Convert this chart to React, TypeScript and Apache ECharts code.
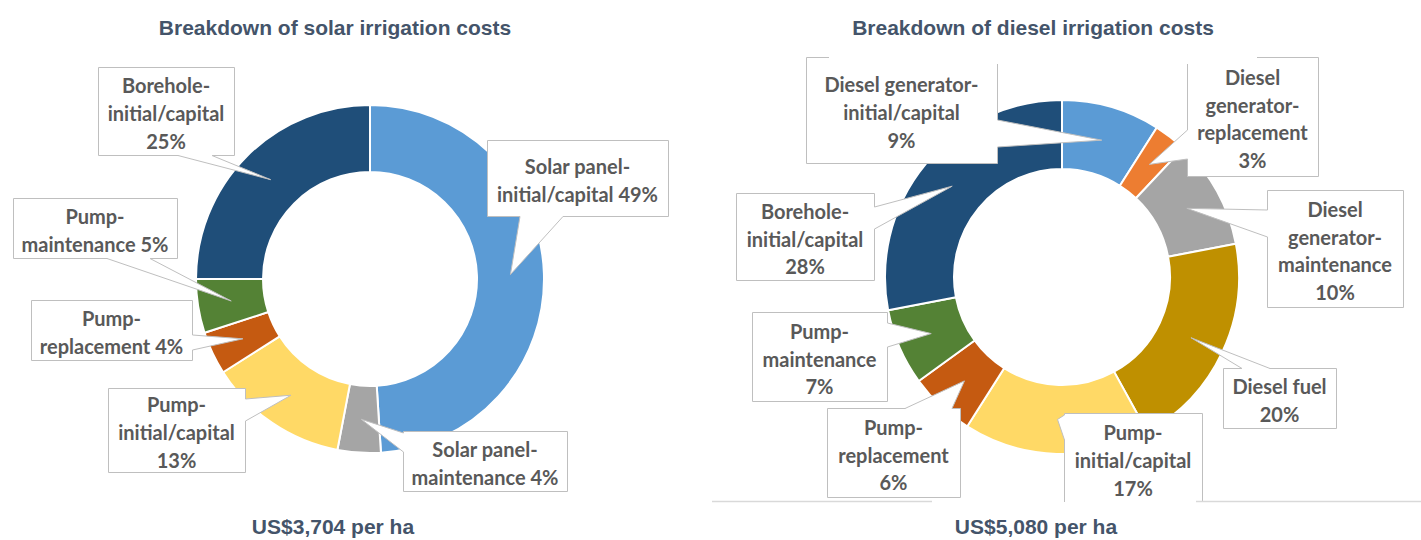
import React, { useEffect, useRef } from 'react';
import * as echarts from 'echarts';

// ---------- DATA ----------
const solarCategories = [
  'Solar panel-initial/capital',
  'Solar panel-maintenance',
  'Pump-initial/capital',
  'Pump-replacement',
  'Pump-maintenance',
  'Borehole-initial/capital',
];
const solarValues = [49, 4, 13, 4, 5, 25];
const solarLabelTemplates = [
  'Solar panel-\ninitial/capital {p}%',
  'Solar panel-\nmaintenance {p}%',
  'Pump-\ninitial/capital\n{p}%',
  'Pump-\nreplacement {p}%',
  'Pump-\nmaintenance {p}%',
  'Borehole-\ninitial/capital\n{p}%',
];
const solarTitle = 'Breakdown of solar irrigation costs';
const solarTotal = 'US$3,704 per ha';

const dieselCategories = [
  'Diesel generator-initial/capital',
  'Diesel generator-replacement',
  'Diesel generator-maintenance',
  'Diesel fuel',
  'Pump-initial/capital',
  'Pump-replacement',
  'Pump-maintenance',
  'Borehole-initial/capital',
];
const dieselValues = [9, 3, 10, 20, 17, 6, 7, 28];
const dieselLabelTemplates = [
  'Diesel generator-\ninitial/capital\n{p}%',
  'Diesel\ngenerator-\nreplacement\n{p}%',
  'Diesel\ngenerator-\nmaintenance\n{p}%',
  'Diesel fuel\n{p}%',
  'Pump-\ninitial/capital\n{p}%',
  'Pump-\nreplacement\n{p}%',
  'Pump-\nmaintenance\n{p}%',
  'Borehole-\ninitial/capital\n{p}%',
];
const dieselTitle = 'Breakdown of diesel irrigation costs';
const dieselTotal = 'US$5,080 per ha';

// ---------- STYLE / LAYOUT ----------
const solarColors = ['#5B9BD5', '#A5A5A5', '#FFD966', '#C55A11', '#548235', '#1F4E79'];
const dieselColors = ['#5B9BD5', '#ED7D31', '#A5A5A5', '#BF9000', '#FFD966', '#C55A11', '#548235', '#1F4E79'];

type Callout = { box: [number, number, number, number]; side: 'top' | 'bottom' | 'left' | 'right'; base: [number, number] };

const solarCallouts: Callout[] = [
  { box: [487, 140, 668, 216], side: 'bottom', base: [520, 563] },
  { box: [403, 431, 567, 491], side: 'left', base: [433, 452] },
  { box: [108, 388, 245, 472], side: 'right', base: [399, 421] },
  { box: [31, 300, 192, 360], side: 'right', base: [335, 350] },
  { box: [13, 198, 177, 258], side: 'bottom', base: [107, 150] },
  { box: [98, 67, 234, 155], side: 'bottom', base: [178, 212] },
];
const dieselCallouts: Callout[] = [
  { box: [806, 57, 997, 163], side: 'right', base: [120, 147] },
  { box: [1187, 57, 1318, 176], side: 'left', base: [130, 159] },
  { box: [1267, 190, 1403, 307], side: 'left', base: [210, 237] },
  { box: [1223, 368, 1336, 428], side: 'top', base: [1242, 1270] },
  { box: [1064, 413, 1202, 503], side: 'left', base: [415, 440] },
  { box: [827, 408, 960, 497], side: 'top', base: [905, 952] },
  { box: [752, 312, 887, 401], side: 'right', base: [323, 347] },
  { box: [736, 193, 874, 280], side: 'right', base: [207, 229] },
];

const solarPie = { center: [370, 279], radius: [107, 174] };
const dieselPie = { center: [1062, 277], radius: [108, 177] };

const LABEL_FONT = 'bold 20px Lato, "Open Sans", sans-serif';
const TITLE_FONT = 'bold 21px "Liberation Sans", Arial, sans-serif';
const LABEL_COLOR = '#595959';
const TITLE_COLOR = '#44546A';
const BORDER = '#BFBFBF';

function pieSeries(values: number[], cats: string[], colors: string[], cfg: any) {
  return {
    type: 'pie',
    center: cfg.center,
    radius: cfg.radius,
    startAngle: 90,
    clockwise: true,
    silent: true,
    label: { show: false },
    labelLine: { show: false },
    emphasis: { disabled: true },
    itemStyle: { borderColor: '#ffffff', borderWidth: 2 },
    data: values.map((v, i) => ({ name: cats[i], value: v, itemStyle: { color: colors[i] } })),
  };
}

function fallbackLayout(values: number[], cfg: any, i: number) {
  const sum = values.reduce((a, b) => a + b, 0);
  let acc = 0;
  for (let k = 0; k < i; k++) acc += values[k];
  const s = -Math.PI / 2 + (acc / sum) * Math.PI * 2;
  const e = s + (values[i] / sum) * Math.PI * 2;
  return { cx: cfg.center[0], cy: cfg.center[1], r0: cfg.radius[0], r: cfg.radius[1], startAngle: s, endAngle: e };
}

function buildCallouts(
  chart: any,
  seriesIndex: number,
  values: number[],
  templates: string[],
  callouts: Callout[],
  cfg: any
) {
  const els: any[] = [];
  const sum = values.reduce((a, b) => a + b, 0);
  let data: any = null;
  try {
    data = chart.getModel().getSeriesByIndex(seriesIndex).getData();
  } catch (e) {
    data = null;
  }
  values.forEach((v, i) => {
    let lay: any = null;
    try {
      lay = data ? data.getItemLayout(i) : null;
    } catch (e) {
      lay = null;
    }
    if (!lay || lay.cx == null) lay = fallbackLayout(values, cfg, i);
    const mid = (lay.startAngle + lay.endAngle) / 2;
    const rm = (lay.r0 + lay.r) / 2;
    const tip = [lay.cx + rm * Math.cos(mid), lay.cy + rm * Math.sin(mid)];

    const c = callouts[i];
    const [x1, y1, x2, y2] = c.box;
    const bx1 = x1 + 0.5, by1 = y1 + 0.5, bx2 = x2 + 0.5, by2 = y2 + 0.5;
    const [a, b] = c.base;
    let p1: number[], p2: number[], q1: number[], q2: number[];
    const inset = 2.5;
    if (c.side === 'bottom') {
      p1 = [a, by2]; p2 = [b, by2]; q1 = [a, by2 - inset]; q2 = [b, by2 - inset];
    } else if (c.side === 'top') {
      p1 = [a, by1]; p2 = [b, by1]; q1 = [a, by1 + inset]; q2 = [b, by1 + inset];
    } else if (c.side === 'left') {
      p1 = [bx1, a]; p2 = [bx1, b]; q1 = [bx1 + inset, a]; q2 = [bx1 + inset, b];
    } else {
      p1 = [bx2, a]; p2 = [bx2, b]; q1 = [bx2 - inset, a]; q2 = [bx2 - inset, b];
    }
    els.push({
      type: 'rect',
      z: 10,
      silent: true,
      shape: { x: bx1, y: by1, width: bx2 - bx1, height: by2 - by1 },
      style: { fill: '#ffffff', stroke: BORDER, lineWidth: 1 },
    });
    els.push({
      type: 'polygon',
      z: 11,
      silent: true,
      shape: { points: [q1, p1, tip, p2, q2] },
      style: { fill: '#ffffff', stroke: null, lineWidth: 0 },
    });
    els.push({
      type: 'polyline',
      z: 12,
      silent: true,
      shape: { points: [p1, tip, p2] },
      style: { fill: null, stroke: BORDER, lineWidth: 1 },
    });
    const pct = Math.round((v / sum) * 100);
    els.push({
      type: 'text',
      z: 13,
      silent: true,
      style: {
        text: templates[i].replace('{p}', String(pct)),
        x: (x1 + x2) / 2,
        y: (y1 + y2) / 2 + 2,
        font: LABEL_FONT,
        fill: LABEL_COLOR,
        align: 'center',
        verticalAlign: 'middle',
        lineHeight: 27.7,
      },
    });
  });
  return els;
}

function titleText(text: string, x: number, y: number) {
  return {
    type: 'text',
    z: 40,
    silent: true,
    style: { text, x, y, font: TITLE_FONT, fill: TITLE_COLOR, align: 'center', verticalAlign: 'middle' },
  };
}

export default function App() {
  const ref = useRef<HTMLDivElement>(null);
  useEffect(() => {
    document.body.style.margin = '0';
    if (!ref.current) return;
    const chart: any = echarts.init(ref.current, null, { renderer: 'svg' });
    chart.setOption({
      animation: false,
      backgroundColor: '#ffffff',
      series: [
        pieSeries(solarValues, solarCategories, solarColors, solarPie),
        pieSeries(dieselValues, dieselCategories, dieselColors, dieselPie),
      ],
    });
    const graphics: any[] = [
      ...buildCallouts(chart, 0, solarValues, solarLabelTemplates, solarCallouts, solarPie),
      ...buildCallouts(chart, 1, dieselValues, dieselLabelTemplates, dieselCallouts, dieselPie),
      // white areas (title block of right chart and bottom of right plot area)
      { type: 'rect', z: 20, silent: true, shape: { x: 829, y: 0, width: 428, height: 64 }, style: { fill: '#ffffff' } },
      { type: 'rect', z: 20, silent: true, shape: { x: 712, y: 502, width: 709, height: 40 }, style: { fill: '#ffffff' } },
      { type: 'line', z: 21, silent: true, shape: { x1: 712, y1: 501.5, x2: 932, y2: 501.5 }, style: { stroke: '#D9D9D9', lineWidth: 1.5 } },
      { type: 'line', z: 21, silent: true, shape: { x1: 1196, y1: 501.5, x2: 1421, y2: 501.5 }, style: { stroke: '#D9D9D9', lineWidth: 1.5 } },
      titleText(solarTitle, 335, 27),
      titleText(dieselTitle, 1033, 27),
      titleText(solarTotal, 333, 526),
      titleText(dieselTotal, 1036, 526),
    ];
    chart.setOption({ graphic: graphics });
    return () => chart.dispose();
  }, []);
  return <div ref={ref} style={{ width: 1421, height: 540 }} />;
}
